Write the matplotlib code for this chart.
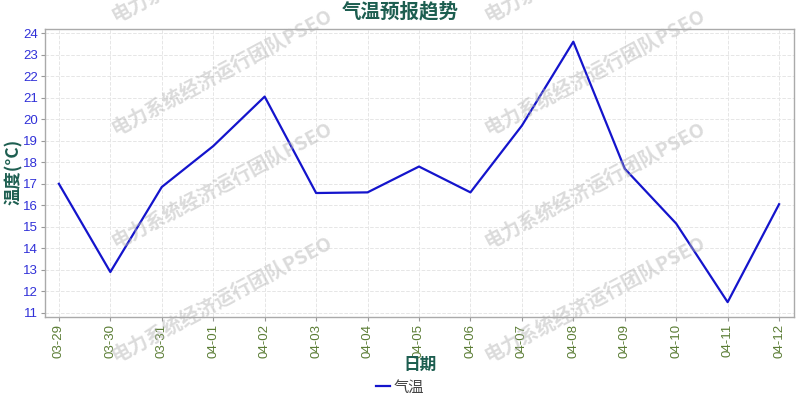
import matplotlib
matplotlib.use('Agg')
import matplotlib.pyplot as plt

# data
dates = ['03-29', '03-30', '03-31', '04-01', '04-02', '04-03', '04-04', '04-05',
         '04-06', '04-07', '04-08', '04-09', '04-10', '04-11', '04-12']
temps = [17.0, 12.9, 16.85, 18.75, 21.05, 16.57, 16.6, 17.8,
         16.6, 19.7, 23.6, 17.7, 15.15, 11.5, 16.05]
yticks = list(range(11, 25))

title_txt = '气温预报趋势'
xlabel_txt = '日期'
ylabel_txt = '温度(°C)'
series_name = '气温'
mark_txt = '电力系统经济运行团队PSEO'

cjk = ['Noto Sans CJK SC', 'DejaVu Sans']
latin = ['Liberation Sans', 'DejaVu Sans']
teal = '#1d5e50'

plt.rcParams['font.family'] = cjk
plt.rcParams['axes.unicode_minus'] = False

fig = plt.figure(figsize=(8, 4), dpi=100)
ax = fig.add_axes([0.05625, 0.2075, 0.93625, 0.72])

x = list(range(len(dates)))
ax.plot(x, temps, color='#1414cc', lw=1.6, label=series_name, zorder=3)

ax.set_xlim(-0.27, len(dates) - 1 + 0.29)
ax.set_ylim(10.81, 24.19)
ax.set_xticks(x)
ax.set_xticklabels(dates, rotation=90, family=latin, fontsize=9.5, color='#5b7d35')
ax.set_yticks(yticks)
ax.set_yticklabels([str(v) for v in yticks], family=latin, fontsize=9.5, color='#3030d8')
ax.tick_params(axis='both', length=3, width=0.8, color='#999999', pad=2)

ax.grid(True, color='#e6e6e6', linestyle='--', linewidth=0.7)
ax.set_axisbelow(True)
for s in ax.spines.values():
    s.set_color('#aaaaaa')
    s.set_linewidth(1.0)

fig.text(0.5, 0.97, title_txt, ha='center', va='center', fontsize=14,
         fontweight='bold', color=teal)
fig.text(0.017, 0.57, ylabel_txt, ha='center', va='center', rotation=90,
         fontsize=12.5, fontweight='bold', color=teal)
fig.text(0.525, 0.087, xlabel_txt, ha='center', va='center', fontsize=12,
         fontweight='bold', color=teal)

leg = fig.legend(loc='center', bbox_to_anchor=(0.5, 0.032), frameon=False,
                 handlelength=0.9, handletextpad=0.2, fontsize=11)
for t in leg.get_texts():
    t.set_color('#444444')

# watermark tiles
for cx in [222, 595]:
    for cy in [-41, 72, 185, 299]:
        fig.text(cx / 800, 1 - cy / 400, mark_txt, ha='center', va='center',
                 rotation=28, fontsize=14, fontweight='bold', color='#b0b0b0',
                 alpha=0.45, zorder=10)

fig.savefig('out.png', dpi=100)
